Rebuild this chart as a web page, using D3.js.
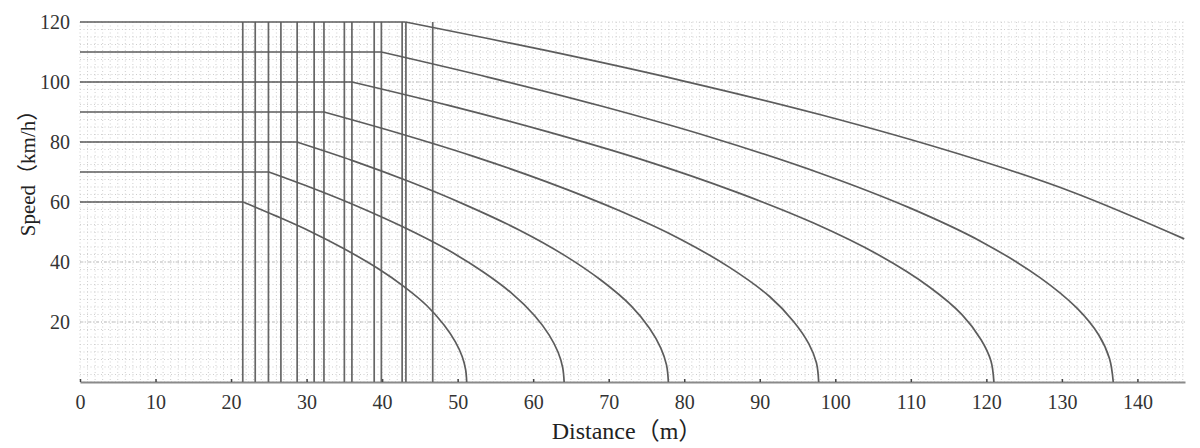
<!DOCTYPE html>
<html>
<head>
<meta charset="utf-8">
<script src="https://cdn.jsdelivr.net/npm/d3@7"></script>
<style>
  body { margin: 0; background: #fff; }
  svg { display: block; }
  .tickText { font-family: "Liberation Serif", "DejaVu Serif", serif; font-size: 20px; fill: #333; }
  .aTitle { font-family: "Liberation Serif", "Noto Sans CJK SC", serif; fill: #222; }
</style>
</head>
<body>
<div id="chart"></div>
<script>
// Data: [distance (m), speed (km/h)]
// first two points = constant speed, the rest = braking
var curve60 = [[0, 60], [21.6, 60], [26.0, 55.3], [30.5, 50.2], [34.9, 44.5], [39.4, 37.9], [42.9, 31.8], [45.9, 25.5], [48.2, 19.0], [49.7, 13.4], [50.6, 8.5], [51.05, 4.2], [51.2, 0]];
var curve70 = [[0, 70], [25.0, 70], [30.9, 64.5], [36.7, 58.6], [42.6, 51.9], [48.5, 44.3], [53.2, 37.0], [57.1, 29.7], [60.2, 22.1], [62.1, 15.7], [63.3, 9.9], [63.9, 4.9], [64.1, 0]];
var curve80 = [[0, 80], [28.7, 80], [36.1, 73.8], [43.5, 66.9], [50.8, 59.3], [58.2, 50.6], [64.1, 42.3], [69.0, 33.9], [73.0, 25.3], [75.4, 17.9], [76.9, 11.3], [77.65, 5.7], [77.9, 0]];
var curve90 = [[0, 90], [32.3, 90], [42.1, 83.0], [52.0, 75.3], [61.8, 66.7], [71.6, 56.9], [79.5, 47.6], [86.0, 38.2], [91.3, 28.5], [94.5, 20.1], [96.5, 12.7], [97.5, 6.4], [97.8, 0]];
var curve100 = [[0, 100], [36.0, 100], [48.8, 92.2], [61.5, 83.7], [74.3, 74.2], [87.0, 63.2], [97.2, 52.9], [105.7, 42.4], [112.5, 31.6], [116.8, 22.4], [119.3, 14.1], [120.6, 7.1], [121.0, 0]];
var curve110 = [[0, 110], [39.9, 110], [54.4, 101.4], [69.0, 92.0], [83.5, 81.6], [98.0, 69.6], [109.7, 58.2], [119.4, 46.7], [127.1, 34.8], [132.0, 24.6], [134.9, 15.6], [136.3, 7.8], [136.8, 0]];
var curve120 = [[0, 120], [43.1, 120], [61.5, 110.6], [79.8, 100.4], [98.2, 89.0], [116.5, 75.9], [131.2, 63.5], [146.2, 47.7]];

// vertical marker lines (m)
var markerLines = [21.55, 23.2, 24.95, 26.6, 28.75, 31.0, 32.3, 35.0, 36.0, 38.95, 39.9, 42.65, 43.15, 46.7];

// tick labels
var xTicks = [0, 10, 20, 30, 40, 50, 60, 70, 80, 90, 100, 110, 120, 130, 140];
var yTicks = [20, 40, 60, 80, 100, 120];

var curves = [curve60, curve70, curve80, curve90, curve100, curve110, curve120];

// Chart setup
var width = 1200;
var height = 448;
var plotLeft = 80, plotRight = 1185, plotTop = 22, plotBottom = 382;

var svg = d3
    .select("#chart")
    .append("svg")
    .attr("width", width)
    .attr("height", height);

var x = d3.scaleLinear().domain([0, 146.3]).range([plotLeft, plotRight]);
var y = d3.scaleLinear().domain([0, 120]).range([plotBottom, plotTop]);

// dotted background grid
var grid = svg.append("g").attr("class", "grid");

grid.selectAll(".vMinor")
    .data(d3.range(0, 147, 1))
    .enter()
    .append("line")
    .attr("x1", function(d) { return x(d); })
    .attr("x2", function(d) { return x(d); })
    .attr("y1", y(120))
    .attr("y2", y(0))
    .attr("stroke", "#cfcfcf")
    .attr("stroke-width", 1)
    .attr("stroke-dasharray", "1,2.5");

grid.selectAll(".hMinor")
    .data(d3.range(0, 121, 2.5))
    .enter()
    .append("line")
    .attr("x1", x(0))
    .attr("x2", x(146.3))
    .attr("y1", function(d) { return y(d); })
    .attr("y2", function(d) { return y(d); })
    .attr("stroke", "#cfcfcf")
    .attr("stroke-width", 1)
    .attr("stroke-dasharray", "1,2.5");

grid.selectAll(".hMajor")
    .data([20, 40, 60, 80, 100])
    .enter()
    .append("line")
    .attr("x1", x(0))
    .attr("x2", x(146.3))
    .attr("y1", function(d) { return y(d); })
    .attr("y2", function(d) { return y(d); })
    .attr("stroke", "#c0c0c0")
    .attr("stroke-width", 1.2)
    .attr("stroke-dasharray", "3,2,1,2");

// x axis
var xAxis = d3.axisBottom(x)
    .tickValues(xTicks)
    .tickSizeInner(-3)
    .tickSizeOuter(0)
    .tickPadding(13);

var xG = svg.append("g")
    .attr("transform", "translate(0," + plotBottom + ")")
    .call(xAxis);

xG.select(".domain").attr("stroke", "#8a8a8a").attr("stroke-width", 2);
xG.selectAll(".tick line").attr("stroke", "#444").attr("stroke-width", 1.5);
xG.selectAll(".tick text").attr("class", "tickText").attr("fill", "#333");

// y axis (labels only)
var yAxis = d3.axisLeft(y)
    .tickValues(yTicks)
    .tickSize(0)
    .tickPadding(8);

var yG = svg.append("g")
    .attr("transform", "translate(" + (plotLeft - 2) + ",0)")
    .call(yAxis);

yG.select(".domain").remove();
yG.selectAll(".tick text").attr("class", "tickText").attr("fill", "#333");

// vertical marker lines
svg.append("g")
    .selectAll("line")
    .data(markerLines)
    .enter()
    .append("line")
    .attr("x1", function(d) { return x(d); })
    .attr("x2", function(d) { return x(d); })
    .attr("y1", y(0))
    .attr("y2", y(120))
    .attr("stroke", "#666")
    .attr("stroke-width", 1.7);

// speed curves: straight constant part + smooth braking part
var flatLine = d3.line()
    .x(function(d) { return x(d[0]); })
    .y(function(d) { return y(d[1]); });

var brakeLine = d3.line()
    .x(function(d) { return x(d[0]); })
    .y(function(d) { return y(d[1]); })
    .curve(d3.curveCatmullRom.alpha(0.5));

var curveG = svg.append("g")
    .attr("fill", "none")
    .attr("stroke", "#5c5c5c")
    .attr("stroke-width", 1.7);

curveG.selectAll(".flat")
    .data(curves)
    .enter()
    .append("path")
    .attr("d", function(d) { return flatLine(d.slice(0, 2)); });

curveG.selectAll(".brake")
    .data(curves)
    .enter()
    .append("path")
    .attr("d", function(d) { return brakeLine(d.slice(1)); });

// axis titles
svg.append("text")
    .attr("class", "aTitle")
    .attr("x", 627)
    .attr("y", 439)
    .attr("text-anchor", "middle")
    .style("font-size", "24px")
    .text("Distance（m）");

svg.append("text")
    .attr("class", "aTitle")
    .attr("transform", "translate(35,168) rotate(-90)")
    .attr("text-anchor", "middle")
    .style("font-size", "21px")
    .text("Speed（km/h）");
</script>
</body>
</html>
